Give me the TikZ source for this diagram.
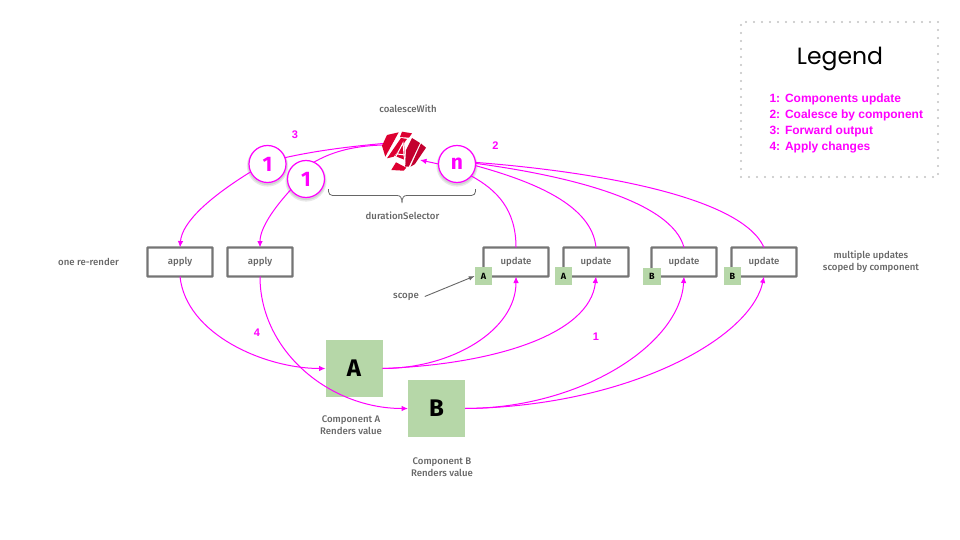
\documentclass[tikz,border=0pt]{standalone}
\usepackage{fontspec}
\setmainfont{Fira Sans}[BoldFont={Fira Sans Medium}]
\newfontfamily\heavyfont{Fira Sans}[UprightFont={* Bold}]
\newfontfamily\legfont{Poppins}
\newfontfamily\arfont{Liberation Sans}
\usetikzlibrary{arrows.meta}
\definecolor{mag}{HTML}{FF00FF}
\definecolor{grn}{HTML}{B6D7A8}
\definecolor{gtx}{HTML}{666666}
\definecolor{redA}{HTML}{DD0031}
\definecolor{redB}{HTML}{C3002F}
\tikzset{
  every node/.style={inner sep=0pt,outer sep=0pt},
  flow/.style={draw=mag,line width=1pt},
  flowa/.style={flow,-{Latex[length=6.5pt,width=5.5pt]}},
  opbox/.style={draw=gtx!90,line width=2.2pt,fill=white,minimum width=65pt,minimum height=29pt,rounded corners=0.5pt,text=gtx,font=\fontsize{9.6}{11}\selectfont\bfseries},
  lbl/.style={text=gtx,font=\fontsize{9.6}{12}\selectfont\bfseries,align=center},
  num/.style={text=mag,font=\arfont\fontsize{11}{12}\selectfont\bfseries},
  bubble/.style={circle,draw=mag,line width=1.2pt,fill=white,minimum size=37pt,text=mag,font=\heavyfont\fontsize{21}{21}\selectfont},
  softshade/.style={fill=black,opacity=0.09},
  scopebox/.style={fill=grn,minimum width=17.5pt,minimum height=17.5pt,font=\heavyfont\fontsize{9}{10}\selectfont,text=black},
  compbox/.style={fill=grn,minimum width=57pt,minimum height=57pt,font=\heavyfont\fontsize{24}{24}\selectfont,text=black},
  legitem/.style={text=mag,anchor=base west,font=\arfont\fontsize{12}{14}\selectfont\bfseries},
}
\begin{document}
\begin{tikzpicture}[x=1pt,y=-1pt]
\useasboundingbox (0,0) rectangle (960,540);
% legend
\node[draw=black!24,line width=2.2pt,line cap=round,dash pattern=on 0pt off 8pt,minimum width=197pt,minimum height=155pt] (legend) at (839.5,99.5) {};
\node[font=\legfont\fontsize{23.5}{25}\selectfont] (legtitle) at (840,58.5) {Legend};
\node[legitem] (l1n) at (769.5,103) {1:}; \node[legitem] (l1) at (785,103) {Components update};
\node[legitem] (l2n) at (769.5,119) {2:}; \node[legitem] (l2) at (785,119) {Coalesce by component};
\node[legitem] (l3n) at (769.5,135) {3:}; \node[legitem] (l3) at (785,135) {Forward output};
\node[legitem] (l4n) at (769.5,151) {4:}; \node[legitem] (l4) at (785,151) {Apply changes};
% boxes
\node[opbox] (ap1) at (180,262) {apply};
\node[opbox] (ap2) at (260,262) {apply};
\node[opbox] (u1) at (516,262) {update};
\node[opbox] (u2) at (596,262) {update};
\node[opbox] (u3) at (684,262) {update};
\node[opbox] (u4) at (764,262) {update};
\node[compbox] (A) at (354,368.5) {A};
\node[compbox] (B) at (436.5,408.5) {B};
% logo anchor
\coordinate (logoL) at (383,143.5);
\coordinate (logoL2) at (383,145);
\coordinate (logoR) at (420,160);
% soft shadows and bubbles
\coordinate (p1) at (267.5,164);
\coordinate (p2) at (306,179);
\coordinate (p3) at (457,164);
\fill[softshade] ([yshift=-1.5pt]p1) circle (19.6pt);
\fill[softshade] ([yshift=-2pt]p1) circle (20.6pt);
\node[bubble] (c1) at (p1) {1};
\draw[flow] (logoL) .. controls (345,147) and (315,151) .. (c1.20);
\draw[flowa] (c1.205) .. controls (210,197) and (182,222) .. (ap1.north);
\fill[softshade] ([yshift=-1.5pt]p2) circle (19.6pt);
\fill[softshade] ([yshift=-2pt]p2) circle (20.6pt);
\node[bubble] (c2) at (p2) {1};
\draw[flow] (logoL2) .. controls (350,146) and (330,153) .. (c2.65);
\draw[flowa] (c2.215) .. controls (274,208) and (260,228) .. (ap2.north);
\fill[softshade] ([yshift=-1.5pt]p3) circle (19.6pt);
\fill[softshade] ([yshift=-2pt]p3) circle (20.6pt);
\node[bubble] (cn) at (p3) {n};
\draw[flow] (u1.north) .. controls +(0,-38) and (497,190) .. (cn.-40);
\draw[flow] (u2.north) .. controls +(-4,-42) and (535,182) .. (cn.-5);
\draw[flow] (u3.north) .. controls +(-12,-46) and (570,176) .. (cn.2);
\draw[flow] (u4.north) .. controls +(-22,-50) and (600,172) .. (cn.5);
\draw[flowa] (cn.west) -- (logoR);
\draw[flowa] (A.east) .. controls +(70,0) and (516,330) .. (u1.south);
\draw[flowa] (A.east) .. controls +(110,-4) and (590,335) .. (u2.south);
\draw[flowa] (B.east) .. controls +(115,0) and (680,345) .. (u3.south);
\draw[flowa] (B.east) .. controls +(160,-2) and (750,340) .. (u4.south);
\draw[flowa] (ap1.south) .. controls +(6,58) and (265,368.5) .. (A.west);
\draw[flowa] (ap2.south) .. controls +(0,75) and (330,408.5) .. (B.west);
% scope squares
\node[scopebox] (sa1) at (483.5,276) {A};
\node[scopebox] (sa2) at (563.5,276) {A};
\node[scopebox] (sb1) at (652,276.5) {B};
\node[scopebox] (sb2) at (732.5,276) {B};
% logo
\fill[redA] (387,135) -- (398.7,132.3) -- (385.3,156.7) -- (382,145.7) -- cycle;
\fill[redA] (402,131.7) -- (412,133.3) -- (409,137.7) -- (400,137) -- cycle;
\fill[redA] (401,138) -- (407,139) -- (393.7,156.7) -- (387,158.3) -- cycle;
\fill[redB] (412,138) -- (420,143) -- (408.7,166.7) -- (405,166.7) -- (406,150) -- cycle;
\fill[redB] (421,143.5) -- (426,147.7) -- (414.7,164.3) -- (410.5,166.7) -- cycle;
\fill[redA] (391.3,170) -- (396,162.3) -- (406.3,167.7) -- (403.7,170.7) -- cycle;
\fill[redA] (399,149) -- (404,142) -- (405,160) -- (395,156) -- cycle;
\draw[white,line width=1pt] (394,160) -- (403,143) -- (405,165) (397,154) -- (405,155);
% brace
\draw[gtx,line width=0.8pt,rounded corners=4pt] (328.5,189) -- (328.5,195.5) -- (397,195.5);
\draw[gtx,line width=0.8pt,rounded corners=4pt] (475.5,189) -- (475.5,195.5) -- (407,195.5);
\draw[gtx,line width=0.8pt] (397,195.5) .. controls (400,195.5) and (402,197) .. (402,203) .. controls (402,197) and (404,195.5) .. (407,195.5);
% labels
\node[lbl] (tcw) at (408,109) {coalesceWith};
\node[lbl] (tds) at (402.5,216) {durationSelector};
\node[lbl] (trr) at (88.5,262) {one re-render};
\node[lbl] (tsc) at (406,296.5) {scope};
\node[lbl] (tmu) at (871,262) {multiple updates\\scoped by component};
\node[lbl] (tca) at (351,425.5) {Component A\\Renders value};
\node[lbl] (tcb) at (442,467) {Component B\\Renders value};
\node[num] (n3) at (295,135) {3};
\node[num] (n2) at (495.5,146) {2};
\node[num] (n4) at (257,333) {4};
\node[num] (n1) at (596,337) {1};
\draw[gtx,line width=0.9pt,-{Latex[length=6pt,width=4.5pt]}] (tsc.east) ++(6,0) -- (sa1.west);
\end{tikzpicture}
\end{document}
